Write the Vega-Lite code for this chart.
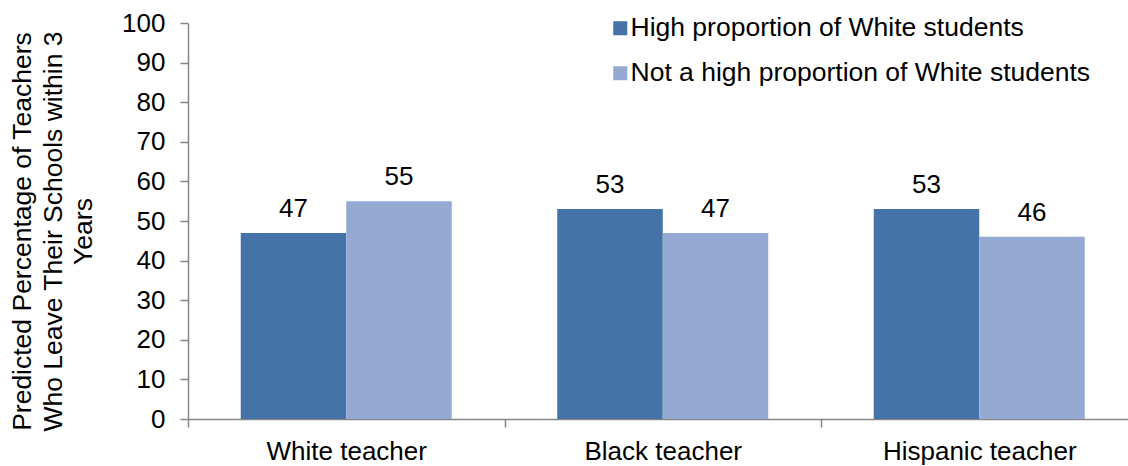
{
  "$schema": "https://vega.github.io/schema/vega-lite/v6.json",
  "width": 940,
  "height": 396,
  "autosize": "none",
  "padding": {"left": 188, "top": 23, "right": 0, "bottom": 47},
  "config": {
    "view": {"stroke": null},
    "font": "Liberation Sans",
    "axis": {
      "domainColor": "#868686",
      "domainWidth": 1.5,
      "tickColor": "#868686",
      "tickWidth": 1.5,
      "tickSize": 8,
      "labelFont": "Liberation Sans",
      "labelFontSize": 26,
      "labelColor": "#000000",
      "labelLimit": 400,
      "titleFont": "Liberation Sans",
      "titleFontSize": 26.5,
      "titleFontWeight": "normal",
      "titleColor": "#000000",
      "grid": false
    }
  },
  "data": {
    "values": [
      {"teacher": "White teacher", "group": "High proportion of White students", "value": 47},
      {"teacher": "White teacher", "group": "Not a high proportion of White students", "value": 55},
      {"teacher": "Black teacher", "group": "High proportion of White students", "value": 53},
      {"teacher": "Black teacher", "group": "Not a high proportion of White students", "value": 47},
      {"teacher": "Hispanic teacher", "group": "High proportion of White students", "value": 53},
      {"teacher": "Hispanic teacher", "group": "Not a high proportion of White students", "value": 46}
    ]
  },
  "encoding": {
    "x": {
      "field": "teacher",
      "type": "nominal",
      "sort": null,
      "scale": {"range": [0, 949.5], "paddingInner": 0, "paddingOuter": 0},
      "axis": {"title": null, "labelAngle": 0, "tickBand": "extent", "labelPadding": 11}
    },
    "xOffset": {
      "field": "group",
      "type": "nominal",
      "sort": null,
      "scale": {"paddingInner": 0, "paddingOuter": 0.5}
    },
    "y": {
      "field": "value",
      "type": "quantitative",
      "scale": {"domain": [0, 100], "nice": false},
      "axis": {
        "values": [0, 10, 20, 30, 40, 50, 60, 70, 80, 90, 100],
        "labelPadding": 15,
        "title": ["Predicted Percentage of Teachers", "Who Leave Their Schools within 3", "Years"],
        "titleLineHeight": 30.5,
        "titlePadding": 24,
        "titleY": 208
      }
    }
  },
  "layer": [
    {
      "mark": {"type": "bar"},
      "encoding": {
        "color": {
          "field": "group",
          "type": "nominal",
          "sort": null,
          "scale": {
            "domain": ["High proportion of White students", "Not a high proportion of White students"],
            "range": ["#4572A7", "#95AAD3"]
          },
          "legend": {
            "title": null,
            "orient": "none",
            "legendX": 419,
            "legendY": -8,
            "padding": 0,
            "symbolType": "square",
            "symbolSize": 196,
            "symbolStrokeWidth": 0,
            "labelFontSize": 26.5,
            "labelFont": "Liberation Sans",
            "labelColor": "#000000",
            "labelOffset": -3,
            "labelLimit": 600,
            "rowPadding": 18
          }
        }
      }
    },
    {
      "mark": {"type": "text", "baseline": "alphabetic", "dy": -16, "fontSize": 26, "font": "Liberation Sans", "color": "#000000"},
      "encoding": {
        "text": {"field": "value", "type": "quantitative"}
      }
    }
  ]
}
